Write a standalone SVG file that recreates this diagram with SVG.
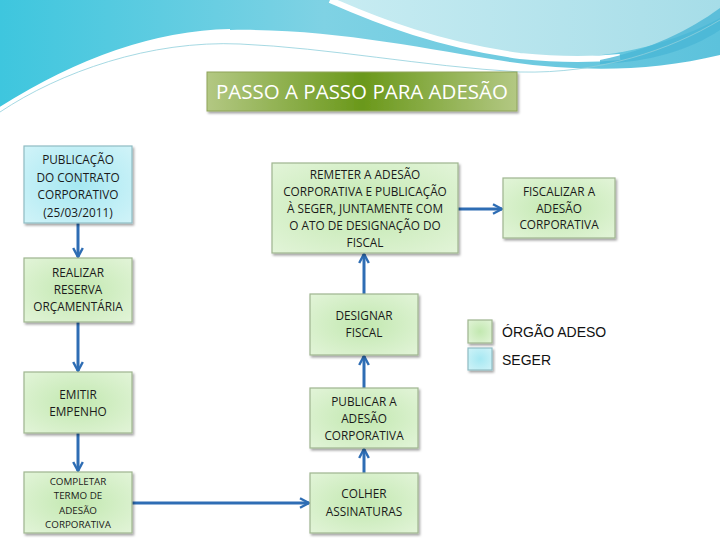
<svg xmlns="http://www.w3.org/2000/svg" width="720" height="540" viewBox="0 0 720 540">
<defs>
<linearGradient id="bandG" x1="0" y1="0" x2="1" y2="0">
<stop offset="0" stop-color="#3ec6de"/>
<stop offset="0.45" stop-color="#7fd2e4"/>
<stop offset="1" stop-color="#5cc2dc"/>
</linearGradient>
<linearGradient id="lightG" x1="0" y1="0" x2="1" y2="0">
<stop offset="0" stop-color="#c8ecf2"/>
<stop offset="1" stop-color="#a6dde8"/>
</linearGradient>
<linearGradient id="titleG" x1="0" y1="0" x2="1" y2="0">
<stop offset="0" stop-color="#b3c883"/>
<stop offset="0.5" stop-color="#6a981a"/>
<stop offset="1" stop-color="#b3c883"/>
</linearGradient>
<radialGradient id="greenG" cx="0.5" cy="0.5" r="0.7">
<stop offset="0" stop-color="#c2e8b0"/>
<stop offset="1" stop-color="#e2f4d8"/>
</radialGradient>
<radialGradient id="cyanG" cx="0.5" cy="0.5" r="0.7">
<stop offset="0" stop-color="#a6e8f2"/>
<stop offset="1" stop-color="#d0f3f8"/>
</radialGradient>
<filter id="sh" x="-10%" y="-10%" width="125%" height="130%">
<feDropShadow dx="1.5" dy="2" stdDeviation="1.2" flood-color="#000" flood-opacity="0.35"/>
</filter>
<marker id="ah" viewBox="0 0 10 10" refX="8.5" refY="5" markerWidth="4" markerHeight="4" orient="auto" markerUnits="strokeWidth">
<path d="M1,1 L8.5,5 L1,9" fill="none" stroke="#2e6db4" stroke-width="2"/>
</marker>
</defs>
<style>
.node rect{stroke:#9fb58f;stroke-width:1.2;filter:url(#sh)}
.g rect{fill:url(#greenG)}
.c rect{fill:url(#cyanG);stroke:#8fbcc4}
.t{font-family:"Open Sans","DejaVu Sans",sans-serif;font-size:11.8px;fill:#1a1a1a;text-anchor:middle}
.s{font-size:9.8px}
.ttl{font-family:"Open Sans","DejaVu Sans",sans-serif;font-size:20.5px;fill:#ffffff;text-anchor:middle}
.conn line{stroke:#2e6db4;stroke-width:3;marker-end:url(#ah)}
.leg{font-family:"Liberation Sans",Arial,sans-serif;font-size:14px;fill:#111}
</style>
<rect width="720" height="540" fill="#ffffff"/>
<g id="background">
<path d="M0,0 H720 V55 C650,72 580,72 510,62 C420,48 330,28 230,30 C140,32 60,70 0,108 Z" fill="url(#bandG)"/>
<path d="M330,0 C380,22 440,45 520,56 C600,64 670,45 720,18 V0 Z" fill="url(#lightG)"/>
<path d="M330,0 C380,22 440,45 520,56 C560,60 590,60 620,57" fill="none" stroke="#ffffff" stroke-width="6"/>
<path d="M600,60 C650,50 690,30 720,8 V30 C690,50 650,62 600,64 Z" fill="#4ab6d6" opacity="0.8"/>
<path d="M0,112 C60,72 150,40 240,44 C330,48 420,66 520,72 C600,74 670,50 720,20" fill="none" stroke="#8fcfdc" stroke-width="0.8"/>
<path d="M0,108 C60,70 140,32 230,30" fill="none" stroke="#ffffff" stroke-width="2"/>
</g>
<g id="title">
<rect x="207" y="72" width="310" height="39" fill="url(#titleG)" stroke="#8fa35a" stroke-width="1" filter="url(#sh)"/>
<text class="ttl" x="362" y="99">PASSO A PASSO PARA ADESÃO</text>
</g>
<g id="connectors" class="conn">
<line x1="78" y1="223" x2="78" y2="257"/>
<line x1="78" y1="322" x2="78" y2="371"/>
<line x1="78" y1="433" x2="78" y2="471"/>
<line x1="132" y1="503" x2="309" y2="503"/>
<line x1="364" y1="473" x2="364" y2="449"/>
<line x1="364" y1="388" x2="364" y2="356"/>
<line x1="364" y1="294" x2="364" y2="254"/>
<line x1="458" y1="209" x2="502" y2="209"/>
</g>
<g id="n1" class="node c">
<rect x="24" y="146" width="108" height="77"/>
<text class="t" x="78" y="164">PUBLICAÇÃO</text>
<text class="t" x="78" y="181.5">DO CONTRATO</text>
<text class="t" x="78" y="199">CORPORATIVO</text>
<text class="t" x="78" y="216.5">(25/03/2011)</text>
</g>
<g id="n2" class="node g">
<rect x="24" y="258" width="108" height="64"/>
<text class="t" x="78" y="277">REALIZAR</text>
<text class="t" x="78" y="294">RESERVA</text>
<text class="t" x="78" y="311">ORÇAMENTÁRIA</text>
</g>
<g id="n3" class="node g">
<rect x="24" y="372" width="108" height="61"/>
<text class="t" x="78" y="399">EMITIR</text>
<text class="t" x="78" y="416">EMPENHO</text>
</g>
<g id="n4" class="node g">
<rect x="24" y="472" width="108" height="61"/>
<text class="t s" x="78" y="484.5">COMPLETAR</text>
<text class="t s" x="78" y="499">TERMO DE</text>
<text class="t s" x="78" y="513.5">ADESÃO</text>
<text class="t s" x="78" y="528">CORPORATIVA</text>
</g>
<g id="n5" class="node g">
<rect x="310" y="473" width="108" height="60"/>
<text class="t" x="364" y="498">COLHER</text>
<text class="t" x="364" y="516">ASSINATURAS</text>
</g>
<g id="n6" class="node g">
<rect x="310" y="388" width="108" height="60"/>
<text class="t" x="364" y="406">PUBLICAR A</text>
<text class="t" x="364" y="423">ADESÃO</text>
<text class="t" x="364" y="440">CORPORATIVA</text>
</g>
<g id="n7" class="node g">
<rect x="310" y="294" width="108" height="61"/>
<text class="t" x="364" y="320">DESIGNAR</text>
<text class="t" x="364" y="337">FISCAL</text>
</g>
<g id="n8" class="node g">
<rect x="272" y="163" width="186" height="90"/>
<text class="t" x="365" y="179">REMETER A ADESÃO</text>
<text class="t" x="365" y="196">CORPORATIVA E PUBLICAÇÃO</text>
<text class="t" x="365" y="213">À SEGER, JUNTAMENTE COM</text>
<text class="t" x="365" y="230">O ATO DE DESIGNAÇÃO DO</text>
<text class="t" x="365" y="246.5">FISCAL</text>
</g>
<g id="n9" class="node g">
<rect x="503" y="178" width="112" height="60"/>
<text class="t" x="559" y="196">FISCALIZAR A</text>
<text class="t" x="559" y="212.5">ADESÃO</text>
<text class="t" x="559" y="229">CORPORATIVA</text>
</g>
<g id="legend">
<g class="node g"><rect x="468" y="320" width="24" height="23"/></g>
<g class="node c"><rect x="468" y="348" width="24" height="22"/></g>
<text class="leg" x="502" y="337">ÓRGÃO ADESO</text>
<text class="leg" x="502" y="365">SEGER</text>
</g>
</svg>
